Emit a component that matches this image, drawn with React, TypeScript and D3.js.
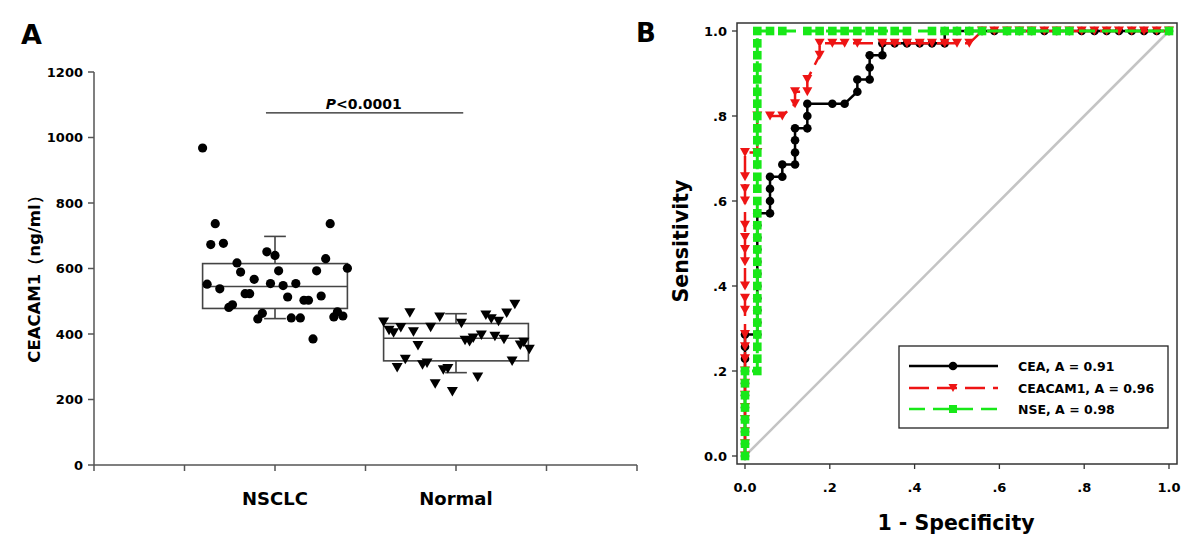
import React from 'react';
import * as d3 from 'd3';

const FONT = '"DejaVu Sans", "Liberation Sans", Arial, sans-serif';

// ---------- Panel A data ----------
const groups = ['NSCLC', 'Normal'];
const yTicksA = [0, 200, 400, 600, 800, 1000, 1200];
const nsclcValues = [968, 737, 737, 673, 677, 651, 640, 617, 630, 601, 589, 593, 593, 567, 552, 554, 554, 548, 538, 523, 523, 513, 516, 503, 503, 489, 481, 463, 446, 449, 449, 468, 452, 455, 385];
const nsclcJitter = [-0.8, -0.66, 0.61, -0.71, -0.57, -0.09, 0.0, -0.42, 0.56, 0.8, -0.38, 0.04, 0.46, -0.23, -0.75, -0.05, 0.23, 0.09, -0.61, -0.33, -0.28, 0.14, 0.51, 0.32, 0.37, -0.47, -0.51, -0.14, -0.19, 0.18, 0.28, 0.69, 0.65, 0.75, 0.42];
const normalValues = [490, 464, 451, 457, 463, 446, 438, 436, 432, 419, 420, 411, 403, 406, 396, 392, 387, 383, 380, 376, 374, 366, 353, 364, 322, 317, 311, 305, 297, 294, 290, 268, 247, 224];
const normalJitter = [0.65, -0.51, -0.18, 0.33, 0.56, 0.39, 0.47, -0.8, 0.06, -0.61, -0.28, -0.74, -0.69, -0.47, 0.28, 0.43, 0.19, 0.53, 0.1, 0.15, 0.75, 0.71, 0.81, -0.42, -0.56, 0.62, -0.32, -0.37, -0.65, -0.09, -0.14, 0.24, -0.23, -0.04];
const boxQ1 = [478, 318];
const boxMedian = [545, 387];
const boxQ3 = [615, 432];
const whiskerLow = [447, 282];
const whiskerHigh = [698, 462];
const pValueLevel = 1075;

// ---------- Panel B data ----------
const rocTicks = [0, 0.2, 0.4, 0.6, 0.8, 1.0];
const rocTickLabels = ['0.0', '.2', '.4', '.6', '.8', '1.0'];
const legendLabels = ['CEA, A = 0.91', 'CEACAM1, A = 0.96', 'NSE, A = 0.98'];

const ceaPoints: [number, number][] = [
  [0, 0], [0, 0.029], [0, 0.057], [0, 0.086], [0, 0.114], [0, 0.143], [0, 0.171], [0, 0.2], [0, 0.229], [0, 0.257], [0, 0.286],
  [0.029, 0.286], [0.029, 0.314], [0.029, 0.343], [0.029, 0.371], [0.029, 0.4], [0.029, 0.429], [0.029, 0.457], [0.029, 0.486], [0.029, 0.514], [0.029, 0.543], [0.029, 0.571],
  [0.059, 0.571], [0.059, 0.6], [0.059, 0.629], [0.059, 0.657],
  [0.088, 0.657], [0.088, 0.686],
  [0.118, 0.686], [0.118, 0.714], [0.118, 0.743], [0.118, 0.771],
  [0.147, 0.771], [0.147, 0.8], [0.147, 0.829],
  [0.206, 0.829], [0.235, 0.829],
  [0.265, 0.857], [0.265, 0.886],
  [0.294, 0.886], [0.294, 0.914], [0.294, 0.943],
  [0.324, 0.943], [0.324, 0.971],
  [0.353, 0.971], [0.382, 0.971], [0.412, 0.971], [0.441, 0.971], [0.471, 0.971],
  [0.471, 1], [0.5, 1], [0.529, 1], [0.559, 1], [0.588, 1], [0.618, 1], [0.647, 1], [0.676, 1], [0.706, 1], [0.735, 1], [0.765, 1],
  [0.794, 1], [0.824, 1], [0.853, 1], [0.882, 1], [0.912, 1], [0.941, 1], [0.971, 1], [1, 1],
];

const ceacamPoints: [number, number][] = [
  [0, 0], [0, 0.029], [0, 0.057], [0, 0.086], [0, 0.114], [0, 0.143], [0, 0.171], [0, 0.2], [0, 0.229], [0, 0.257], [0, 0.286],
  [0, 0.343], [0, 0.371], [0, 0.4], [0, 0.457], [0, 0.486], [0, 0.514], [0, 0.543], [0, 0.6], [0, 0.629], [0, 0.657], [0, 0.714],
  [0.029, 0.714], [0.029, 0.8],
  [0.059, 0.8], [0.088, 0.8],
  [0.118, 0.829], [0.118, 0.857],
  [0.147, 0.857], [0.147, 0.886],
  [0.176, 0.943], [0.176, 0.971],
  [0.206, 0.971], [0.235, 0.971], [0.265, 0.971], [0.324, 0.971], [0.353, 0.971], [0.382, 0.971], [0.412, 0.971], [0.441, 0.971], [0.471, 0.971], [0.5, 0.971], [0.529, 0.971],
  [0.559, 1], [0.588, 1], [0.618, 1], [0.647, 1], [0.676, 1], [0.706, 1], [0.735, 1], [0.765, 1],
  [0.794, 1], [0.824, 1], [0.853, 1], [0.882, 1], [0.912, 1], [0.941, 1], [0.971, 1], [1, 1],
];

const nsePoints: [number, number][] = [
  [0, 0], [0, 0.029], [0, 0.057], [0, 0.086], [0, 0.114], [0, 0.143], [0, 0.171], [0, 0.2],
  [0.029, 0.2], [0.029, 0.229], [0.029, 0.257], [0.029, 0.286], [0.029, 0.314], [0.029, 0.343], [0.029, 0.371], [0.029, 0.4], [0.029, 0.429],
  [0.029, 0.457], [0.029, 0.486], [0.029, 0.514], [0.029, 0.543], [0.029, 0.571], [0.029, 0.6], [0.029, 0.629], [0.029, 0.657], [0.029, 0.686],
  [0.029, 0.714], [0.029, 0.743], [0.029, 0.771], [0.029, 0.8], [0.029, 0.829], [0.029, 0.857], [0.029, 0.886], [0.029, 0.914], [0.029, 0.943],
  [0.029, 0.971], [0.029, 1],
  [0.059, 1], [0.088, 1], [0.147, 1], [0.176, 1], [0.206, 1], [0.235, 1], [0.265, 1], [0.294, 1], [0.324, 1], [0.353, 1], [0.382, 1],
  [0.441, 1], [0.471, 1], [0.5, 1], [0.529, 1], [0.559, 1], [0.618, 1], [0.647, 1], [0.676, 1], [0.735, 1], [0.765, 1], [1, 1],
];

const BLACK = '#000000';
const RED = '#ee1414';
const GREEN = '#18e818';
const AXIS = '#555555';

function triDown(cx: number, cy: number, w: number, h: number) {
  return `M${cx - w / 2},${cy - h / 2}L${cx + w / 2},${cy - h / 2}L${cx},${cy + h / 2}Z`;
}

export default function App() {
  // ---- Panel A scales ----
  const xA = d3.scaleLinear().domain([0, 6]).range([94, 637]);
  const yA = d3.scaleLinear().domain([0, 1200]).range([465, 72]);
  const groupPos = groups.map((_, i) => 2 + 2 * i);
  const xTicksA = d3.range(0, 7);

  // ---- Panel B scales ----
  const xB = d3.scaleLinear().domain([0, 1]).range([745, 1169]);
  const yB = d3.scaleLinear().domain([0, 1]).range([456, 31]);
  const line = d3.line<[number, number]>().x((d) => xB(d[0])).y((d) => yB(d[1]));
  const frame = { x0: 737, y0: 23, x1: 1177, y1: 464 };

  const legendRows = [366, 388, 409];

  return (
    <div style={{ position: 'absolute', left: 0, top: 0 }}>
      <svg width={1200} height={540} style={{ display: 'block', background: '#fff' }} fontFamily={FONT}>
        <rect x={0} y={0} width={1200} height={540} fill="#fff" />
        {/* ================= Panel A ================= */}
        <text x={21} y={44} fontSize={27} fontWeight="bold">A</text>
        {/* y axis */}
        <line x1={xA(0)} x2={xA(0)} y1={yA(1200)} y2={yA(0)} stroke={AXIS} strokeWidth={1.5} />
        {yTicksA.map((t) => (
          <g key={t}>
            <line x1={xA(0) - 6} x2={xA(0)} y1={yA(t)} y2={yA(t)} stroke={AXIS} strokeWidth={1.5} />
            <text x={xA(0) - 11} y={yA(t)} dy="0.36em" textAnchor="end" fontSize={13} fontWeight="bold">{t}</text>
          </g>
        ))}
        {/* x axis */}
        <line x1={xA(0)} x2={xA(6)} y1={yA(0)} y2={yA(0)} stroke={AXIS} strokeWidth={1.5} />
        {xTicksA.map((t) => (
          <line key={t} x1={xA(t)} x2={xA(t)} y1={yA(0)} y2={yA(0) + 6} stroke={AXIS} strokeWidth={1.5} />
        ))}
        {groups.map((g, i) => (
          <text key={g} x={xA(groupPos[i])} y={505} textAnchor="middle" fontSize={18} fontWeight="bold">{g}</text>
        ))}
        <text transform={`translate(34,${275}) rotate(-90)`} textAnchor="middle" dy="0.36em" fontSize={16.5} fontWeight="bold">
          CEACAM1（ng/ml）
        </text>
        {/* boxes */}
        {groups.map((g, i) => {
          const p = groupPos[i];
          const bx0 = xA(p - 0.8);
          const bx1 = xA(p + 0.8);
          return (
            <g key={g} stroke="#444" strokeWidth={1.6} fill="none">
              <rect x={bx0} y={yA(boxQ3[i])} width={bx1 - bx0} height={yA(boxQ1[i]) - yA(boxQ3[i])} />
              <line x1={bx0} x2={bx1} y1={yA(boxMedian[i])} y2={yA(boxMedian[i])} />
              <line x1={xA(p)} x2={xA(p)} y1={yA(boxQ3[i])} y2={yA(whiskerHigh[i])} />
              <line x1={xA(p - 0.12)} x2={xA(p + 0.12)} y1={yA(whiskerHigh[i])} y2={yA(whiskerHigh[i])} />
              <line x1={xA(p)} x2={xA(p)} y1={yA(boxQ1[i])} y2={yA(whiskerLow[i])} />
              <line x1={xA(p - 0.12)} x2={xA(p + 0.12)} y1={yA(whiskerLow[i])} y2={yA(whiskerLow[i])} />
            </g>
          );
        })}
        {nsclcValues.map((v, i) => (
          <circle key={`n${i}`} cx={xA(groupPos[0] + nsclcJitter[i])} cy={yA(v)} r={4.6} fill={BLACK} />
        ))}
        {normalValues.map((v, i) => (
          <path key={`m${i}`} d={triDown(xA(groupPos[1] + normalJitter[i]), yA(v), 11, 9.5)} fill={BLACK} />
        ))}
        {/* p-value */}
        <line x1={xA(1.9)} x2={xA(4.08)} y1={yA(pValueLevel)} y2={yA(pValueLevel)} stroke="#222" strokeWidth={1.3} />
        <text x={xA(2.98)} y={yA(pValueLevel) - 4} textAnchor="middle" fontSize={14} fontWeight="bold">
          <tspan fontStyle="italic">P</tspan>
          <tspan>{'<0.0001'}</tspan>
        </text>

        {/* ================= Panel B ================= */}
        <text x={636} y={42} fontSize={26} fontWeight="bold">B</text>
        <rect x={frame.x0} y={frame.y0} width={frame.x1 - frame.x0} height={frame.y1 - frame.y0} fill="none" stroke="#333" strokeWidth={1.5} />
        {rocTicks.map((t, i) => (
          <g key={`y${t}`}>
            <line x1={frame.x0 - 5} x2={frame.x0} y1={yB(t)} y2={yB(t)} stroke="#333" strokeWidth={1.3} />
            <text x={frame.x0 - 10} y={yB(t)} dy="0.36em" textAnchor="end" fontSize={13} fontWeight="bold">{rocTickLabels[i]}</text>
          </g>
        ))}
        {rocTicks.map((t, i) => (
          <g key={`x${t}`}>
            <line x1={xB(t)} x2={xB(t)} y1={frame.y1} y2={frame.y1 + 5} stroke="#333" strokeWidth={1.3} />
            <text x={xB(t)} y={492} textAnchor="middle" fontSize={13} fontWeight="bold">{rocTickLabels[i]}</text>
          </g>
        ))}
        <text x={956} y={530} textAnchor="middle" fontSize={20.5} fontWeight="bold">1 - Specificity</text>
        <text transform={`translate(681,241) rotate(-90)`} textAnchor="middle" dy="0.36em" fontSize={20.5} fontWeight="bold">Sensitivity</text>

        {/* reference diagonal */}
        <line x1={xB(0)} y1={yB(0)} x2={xB(1)} y2={yB(1)} stroke="#c4c4c4" strokeWidth={2.5} />

        {/* CEA */}
        <path d={line(ceaPoints) || ''} fill="none" stroke={BLACK} strokeWidth={2.5} />
        {ceaPoints.map((d, i) => (
          <circle key={`c${i}`} cx={xB(d[0])} cy={yB(d[1])} r={4.3} fill={BLACK} />
        ))}
        {/* CEACAM1 */}
        <path d={line(ceacamPoints) || ''} fill="none" stroke={RED} strokeWidth={2.5} strokeDasharray="20,8" />
        {ceacamPoints.map((d, i) => (
          <path key={`r${i}`} d={triDown(xB(d[0]), yB(d[1]), 10, 9)} fill={RED} />
        ))}
        {/* NSE */}
        <path d={line(nsePoints) || ''} fill="none" stroke={GREEN} strokeWidth={3} strokeDasharray="16,7" />
        {nsePoints.map((d, i) => (
          <rect key={`g${i}`} x={xB(d[0]) - 4.3} y={yB(d[1]) - 4.3} width={8.6} height={8.6} fill={GREEN} />
        ))}

        {/* legend */}
        <rect x={899} y={346} width={269} height={82} fill="#fff" stroke="#222" strokeWidth={1.3} />
        <line x1={909} x2={998} y1={legendRows[0]} y2={legendRows[0]} stroke={BLACK} strokeWidth={2.5} />
        <circle cx={953} cy={legendRows[0]} r={4.3} fill={BLACK} />
        <line x1={909} x2={998} y1={legendRows[1]} y2={legendRows[1]} stroke={RED} strokeWidth={2.5} strokeDasharray="20,8" />
        <path d={triDown(953, legendRows[1], 9, 8)} fill={RED} />
        <line x1={909} x2={998} y1={legendRows[2]} y2={legendRows[2]} stroke={GREEN} strokeWidth={2.5} strokeDasharray="16,8" />
        <rect x={953 - 4} y={legendRows[2] - 4} width={8} height={8} fill={GREEN} />
        {legendLabels.map((l, i) => (
          <text key={l} x={1018} y={legendRows[i]} dy="0.36em" fontSize={12.5} fontWeight="bold">{l}</text>
        ))}
      </svg>
    </div>
  );
}
